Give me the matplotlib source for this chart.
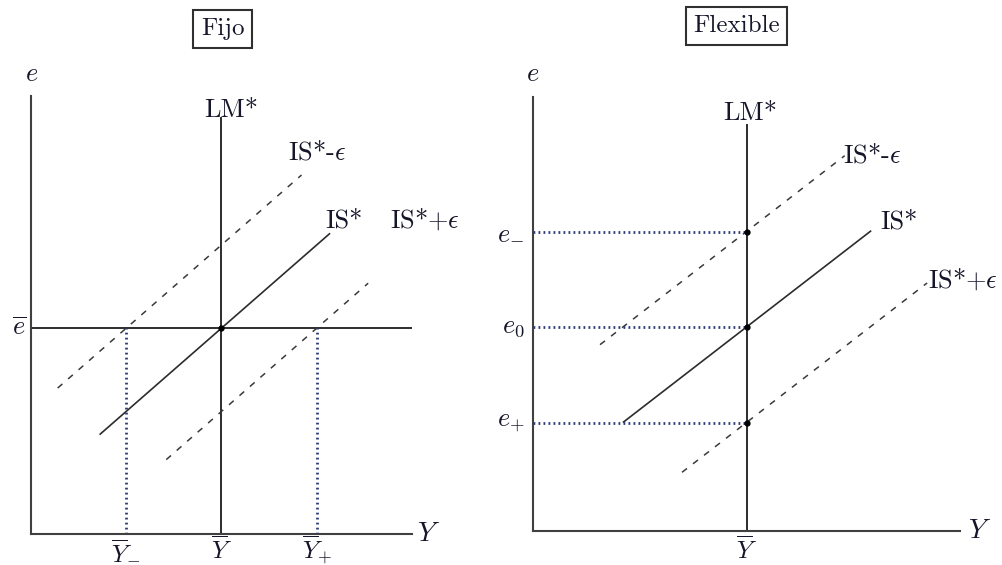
import numpy as np
import matplotlib
matplotlib.use("Agg")
import matplotlib.pyplot as plt

plt.rcParams['mathtext.fontset'] = 'cm'
plt.rcParams['font.family'] = ['cmr10', 'DejaVu Serif']
plt.rcParams['axes.formatter.use_mathtext'] = True
plt.rcParams['lines.scale_dashes'] = False

# Mundell-Fleming: shocks to IS* under fixed and flexible exchange rates
Y_BAR = 5.0
SLOPE = 0.76

# fixed regime: e stays at e_bar, output moves
E_BAR = 4.7
Y_FIX = [2.5, 5.0, 7.5]                      # Y_-, Y_bar, Y_+
Y_FIX_LABELS = [r'$\overline{Y}_{-}$', r'$\overline{Y}$', r'$\overline{Y}_{+}$']
IS_FIX_SPAN = [(0.7, 7.1), (1.8, 7.85), (3.55, 8.85)]   # IS*-eps, IS*, IS*+eps

# flexible regime: output stays at Y_bar, e moves
E_FLEX = [6.9, 4.7, 2.5]                     # e_-, e_0, e_+
E_FLEX_LABELS = [r'$e_{-}$', r'$e_{0}$', r'$e_{+}$']
IS_FLEX_SPAN = [(1.57, 7.3), (2.105, 7.92), (3.49, 9.23)]

IS_NAMES = [r'IS*-$\epsilon$', 'IS*', r'IS*+$\epsilon$']
LM_TOP = [9.5, 9.35]

INK = '#16162a'
LINE = '#2c2c2c'
DOT = '#2c3b78'
FS = 19

fig = plt.figure(figsize=(10.03, 5.65), dpi=100)
W, H = 1003, 565


def make_axes(x0, x1, y0, y1):
    ax = fig.add_axes([x0 / W, (H - y0) / H, (x1 - x0) / W, (y0 - y1) / H])
    ax.set_xlim(0, 10)
    ax.set_ylim(0, 10)
    for s in ['top', 'right']:
        ax.spines[s].set_visible(False)
    for s in ['left', 'bottom']:
        ax.spines[s].set_color('#404040')
        ax.spines[s].set_linewidth(1.5)
    ax.set_xticks([])
    ax.set_yticks([])
    ax.patch.set_alpha(0)
    return ax


def is_curve(ax, span, y_pass, e_pass, style):
    y = np.array(span)
    e = e_pass + SLOPE * (y - y_pass)
    if style == 'solid':
        ax.plot(y, e, color=LINE, lw=1.2, solid_capstyle='butt')
    else:
        ax.plot(y, e, color='#3a3a3a', lw=1.1, dashes=(4.5, 5.5))


# ---------- Fijo ----------
ax1 = make_axes(31, 412, 534, 96)
ax1.plot([Y_BAR, Y_BAR], [0, LM_TOP[0]], color=LINE, lw=1.4)
ax1.plot([0, 10], [E_BAR, E_BAR], color=LINE, lw=1.4)
for i, span in enumerate(IS_FIX_SPAN):
    is_curve(ax1, span, Y_FIX[i], E_BAR, 'solid' if i == 1 else 'dashed')
for yv in [Y_FIX[0], Y_FIX[2]]:
    ax1.plot([yv, yv], [0, E_BAR], color=DOT, lw=2.0, dashes=(1.3, 2.3))
ax1.plot([Y_BAR], [E_BAR], 'o', color='k', ms=3.5)
for yv, lab in zip(Y_FIX, Y_FIX_LABELS):
    ax1.text(yv, -0.56, lab, ha='center', va='baseline', fontsize=18, color=INK)
ax1.text(-0.12, E_BAR, r'$\overline{e}$', ha='right', va='center', fontsize=FS, color=INK)
ax1.text(0.03, 10.5, r'$e$', ha='center', va='center', fontsize=FS, color=INK)
ax1.text(10.13, 0, r'$Y$', ha='left', va='center', fontsize=FS + 1, color=INK)
ax1.text(4.55, 9.52, 'LM*', ha='left', va='baseline', fontsize=FS, color=INK)
for (x, y), name in zip([(6.75, 8.54), (7.72, 6.99), (9.42, 6.99)], IS_NAMES):
    ax1.text(x, y, name, ha='left', va='baseline', fontsize=FS, color=INK)

# ---------- Flexible ----------
ax2 = make_axes(533, 960, 531, 97)
ax2.plot([Y_BAR, Y_BAR], [0, LM_TOP[1]], color=LINE, lw=1.4)
for i, span in enumerate(IS_FLEX_SPAN):
    is_curve(ax2, span, Y_BAR, E_FLEX[i], 'solid' if i == 1 else 'dashed')
for ev, lab in zip(E_FLEX, E_FLEX_LABELS):
    ax2.plot([0, Y_BAR], [ev, ev], color=DOT, lw=2.0, dashes=(1.3, 2.3))
    ax2.plot([Y_BAR], [ev], 'o', color='k', ms=3.5)
    ax2.text(-0.2, ev, lab, ha='right', va='center', fontsize=FS, color=INK)
ax2.text(Y_BAR, -0.63, r'$\overline{Y}$', ha='center', va='baseline', fontsize=18, color=INK)
ax2.text(0.0, 10.53, r'$e$', ha='center', va='center', fontsize=FS, color=INK)
ax2.text(10.19, 0, r'$Y$', ha='left', va='center', fontsize=FS + 1, color=INK)
ax2.text(4.45, 9.47, 'LM*', ha='left', va='baseline', fontsize=FS, color=INK)
for (x, y), name in zip([(7.26, 8.5), (8.13, 6.98), (9.25, 5.6)], IS_NAMES):
    ax2.text(x, y, name, ha='left', va='baseline', fontsize=FS, color=INK)

# regime titles in boxes
box = dict(boxstyle='square,pad=0.3', fc='white', ec='#303030', lw=1.5)
fig.text(222.5 / W, (H - 29) / H, 'Fijo', ha='center', va='center', fontsize=FS - 1, color=INK, bbox=box)
fig.text(736.5 / W, (H - 26) / H, 'Flexible', ha='center', va='center', fontsize=FS - 1, color=INK, bbox=box)

fig.savefig('out.png', dpi=100, facecolor='white')
